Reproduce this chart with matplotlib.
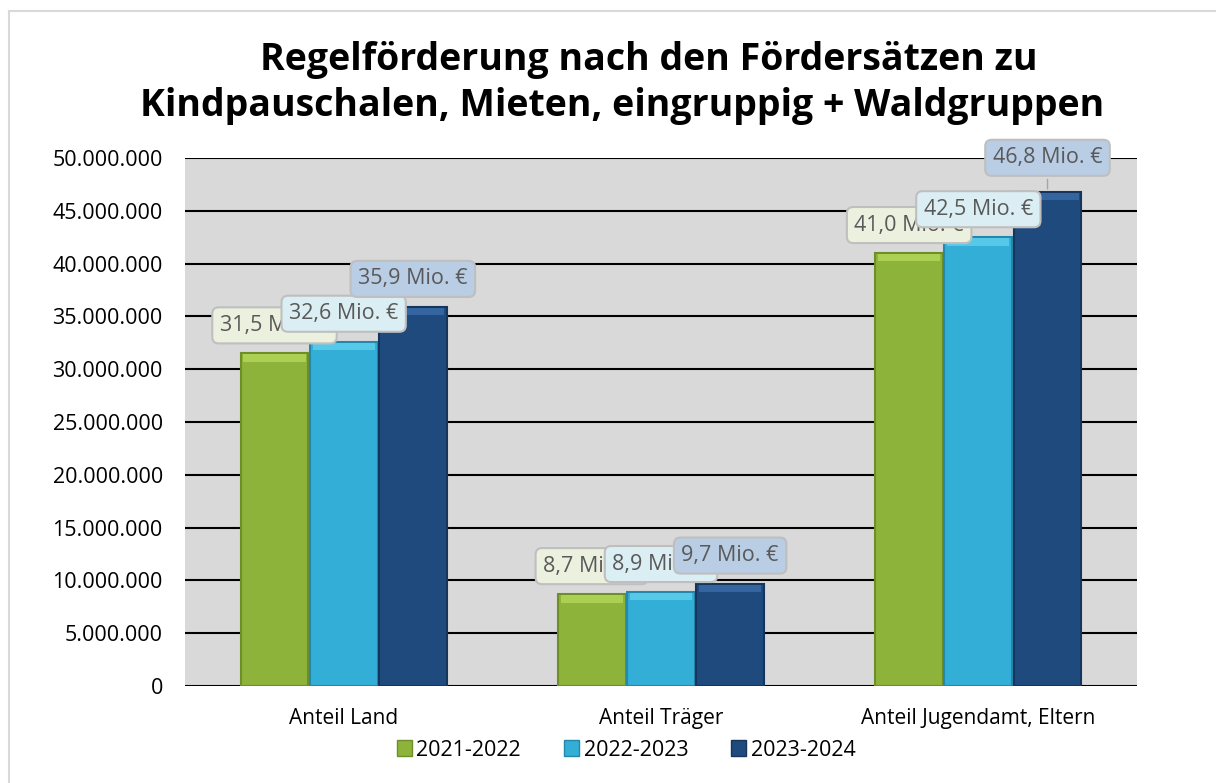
import numpy as np
import matplotlib.pyplot as plt
from matplotlib.ticker import FuncFormatter, MultipleLocator
from matplotlib.lines import Line2D
from matplotlib.patches import Patch

# Daten
kategorien = ['Anteil Land', 'Anteil Träger', 'Anteil Jugendamt, Eltern']
jahre = ['2021-2022', '2022-2023', '2023-2024']
werte_2021 = [31.5e6, 8.7e6, 41.0e6]
werte_2022 = [32.6e6, 8.9e6, 42.5e6]
werte_2023 = [35.9e6, 9.7e6, 46.8e6]
beschriftung_2021 = ['31,5 Mio. €', '8,7 Mio. €', '41,0 Mio. €']
beschriftung_2022 = ['32,6 Mio. €', '8,9 Mio. €', '42,5 Mio. €']
beschriftung_2023 = ['35,9 Mio. €', '9,7 Mio. €', '46,8 Mio. €']

serien = [werte_2021, werte_2022, werte_2023]
labels = [beschriftung_2021, beschriftung_2022, beschriftung_2023]
farben = ['#8DB33A', '#33AED6', '#1F4A7E']
kanten = ['#6E8E28', '#2388AB', '#15355C']
oben = ['#B5D85A', '#5FD0EE', '#3A6DAA']
box_farben = ['#EBF1DE', '#DAEEF3', '#B9CDE5']

plt.rcParams['font.family'] = ['Open Sans', 'DejaVu Sans']

fig = plt.figure(figsize=(12.16, 7.83), dpi=100)
ax = fig.add_axes([185 / 1216, 1 - 686 / 783, 952 / 1216, (686 - 158) / 783])
ax.set_facecolor('#D9D9D9')

x = np.arange(len(kategorien))
breite = 0.218
for i, werte in enumerate(serien):
    pos = x + (i - 1) * breite
    ax.bar(pos, werte, breite * 0.98, color=farben[i], edgecolor=kanten[i],
           linewidth=1.5, zorder=3)
    # heller Rand oben (Abschrägung)
    ax.bar(pos, [0.7e6] * len(werte), breite * 0.9, bottom=np.array(werte) - 0.8e6,
           color=oben[i], linewidth=0, zorder=4, alpha=0.8)

# Datenbeschriftungen
for i, werte in enumerate(serien):
    pos = x + (i - 1) * breite
    for j, w in enumerate(werte):
        versatz = 34 if (i == 2 and j == 2) else 28
        pfeil = dict(arrowstyle='-', color='#A6A6A6', lw=1) if (i == 2 and j == 2) else None
        ax.annotate(labels[i][j], (pos[j], w), xytext=(0, versatz * 0.72),
                    textcoords='offset points', ha='center', va='center',
                    fontsize=15.5, color='#595959', zorder=10 + i,
                    arrowprops=pfeil,
                    bbox=dict(boxstyle='round,pad=0.35,rounding_size=0.3',
                              fc=box_farben[i], ec='#BFBFBF', lw=1.5))

ax.set_xlim(-0.5, 2.5)
ax.set_ylim(0, 50e6)
ax.yaxis.set_major_locator(MultipleLocator(5e6))
ax.yaxis.set_major_formatter(FuncFormatter(lambda v, p: f"{int(v):,}".replace(',', '.')))
ax.grid(axis='y', color='black', linewidth=1.5, zorder=1)
ax.set_axisbelow(True)
for s in ax.spines.values():
    s.set_visible(False)
ax.tick_params(axis='y', length=0, pad=16, labelsize=15.5)
ax.tick_params(axis='x', length=0, pad=16, labelsize=15)
ax.set_xticks(x)
ax.set_xticklabels(kategorien)

fig.text(649 / 1216, 1 - 60 / 783, 'Regelförderung nach den Fördersätzen zu',
         ha='center', va='center', fontsize=27, fontweight='bold')
fig.text(622 / 1216, 1 - 106 / 783, 'Kindpauschalen, Mieten, eingruppig + Waldgruppen',
         ha='center', va='center', fontsize=27, fontweight='bold')

handles = [Patch(facecolor=farben[i], edgecolor=kanten[i]) for i in range(3)]
fig.legend(handles, jahre, loc='center', bbox_to_anchor=(0.515, 1 - 750 / 783),
           ncol=3, frameon=False, fontsize=15.5, handlelength=0.7, handleheight=0.7,
           handletextpad=0.2, columnspacing=2.0)

# Rahmen
fig.add_artist(Line2D([9 / 1216, 9 / 1216], [0, 1 - 11 / 783], color='#D9D9D9', lw=1.5))
fig.add_artist(Line2D([9 / 1216, 1], [1 - 11 / 783, 1 - 11 / 783], color='#D9D9D9', lw=1.5))

fig.savefig('out.png', dpi=100)
